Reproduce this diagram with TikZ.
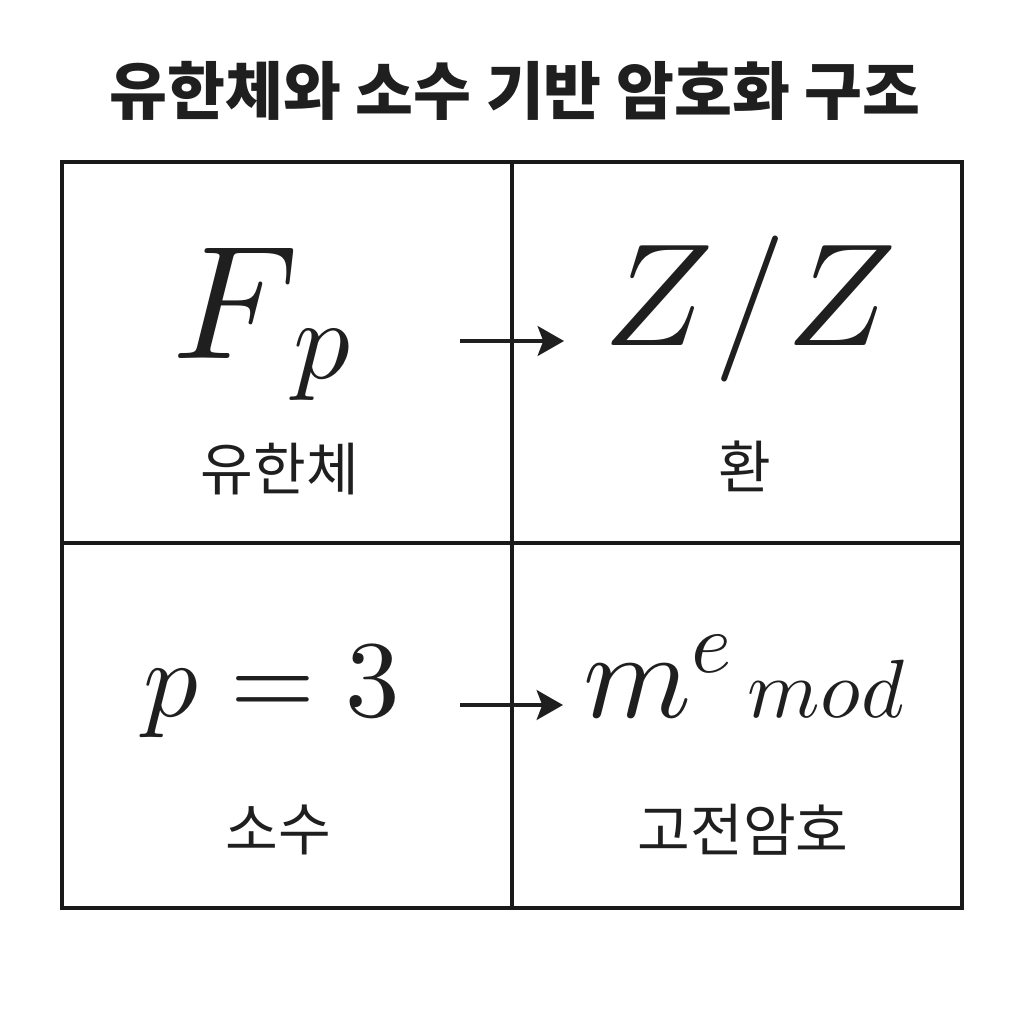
\documentclass[tikz,border=0pt]{standalone}
\usepackage{fontspec}
\usepackage{unicode-math}
\usetikzlibrary{arrows.meta, positioning}
\newfontfamily\kr{Noto Sans CJK KR}
\def\cellmid{512}

\begin{document}
\begin{tikzpicture}[x=0.01cm, y=-0.01cm, >={Stealth[length=7.5pt,width=8.5pt,inset=1.6pt]}]
    \tikzstyle{grid line}=[draw=black!90, line width=0.9pt]
    \tikzstyle{formula}=[inner sep=0pt, text=black!88, anchor=base]
    \tikzstyle{label}=[inner sep=0pt, text=black!88, font=\kr\fontsize{16.3}{19}\selectfont]
    \tikzstyle{map arrow}=[->, draw=black!88, line width=0.95pt]

    \useasboundingbox[fill=white] (0,0) rectangle (1024,1024);

    % Title
    \node[inner sep=0pt, text=black!88, font=\kr\bfseries\fontsize{17.9}{21}\selectfont] (title) at (515,91) {유한체와 소수 기반 암호화 구조};

    % Draw the grid
    \draw[grid line] (62,162) rectangle (962,908);
    \draw[grid line] (\cellmid,162) -- (\cellmid,908);
    \draw[grid line] (62,543) -- (962,543);

    % Top row
    \node[formula, font=\fontsize{46}{50}\selectfont] (field) at (262,358) {$F\kern-0.03em\lower5.7pt\hbox{$\scriptstyle p$}$};
    \node[formula, font=\fontsize{41.5}{46}\selectfont] (ring) at (750,345) {$Z/Z$};
    \node[label] (field-lbl) at (280,469) {유한체};
    \node[label] (ring-lbl) at (745,466) {환};

    % Bottom row
    \node[formula, font=\fontsize{31}{36}\selectfont] (prime) at (272,716) {$p=3$};
    \node[formula] (cipher) at (745,717) {{\fontsize{35}{40}\selectfont$m^{e}$}{\fontsize{23.5}{26}\selectfont$\,mod$}};
    \node[label] (prime-lbl) at (278,830) {소수};
    \node[label] (cipher-lbl) at (743,830) {고전암호};

    % Arrows between the cells
    \coordinate (top-from) at (460,341);
    \coordinate (top-to) at (564,341);
    \coordinate (bot-from) at (460,705);
    \coordinate (bot-to) at (563,705);
    \draw[map arrow] (top-from) -- (top-to);
    \draw[map arrow] (bot-from) -- (bot-to);
\end{tikzpicture}
\end{document}
